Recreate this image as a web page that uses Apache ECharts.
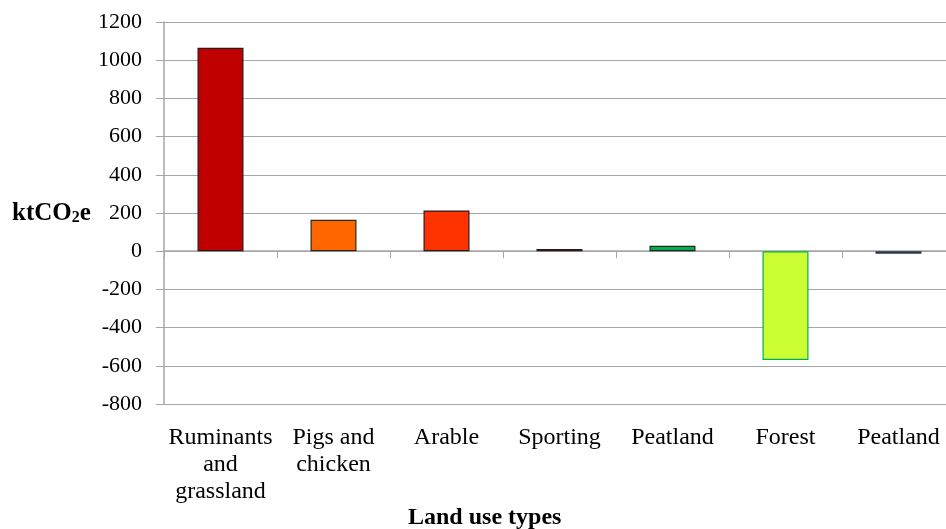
<!DOCTYPE html>
<html>
<head>
<meta charset="utf-8">
<script src="https://cdn.jsdelivr.net/npm/echarts@6/dist/echarts.min.js"></script>
<style>
  html, body { margin: 0; padding: 0; background: #fff; overflow: hidden; }
  /* chart is a bit wider than the window: the plot runs past the right edge like the original */
  #chart { width: 955px; height: 529px; }
</style>
</head>
<body>
<div id="chart"></div>
<script>
  // land use categories and emissions (ktCO2e)
  const categories = ['Ruminants\nand\ngrassland', 'Pigs and\nchicken', 'Arable', 'Sporting', 'Peatland', 'Forest', 'Peatland']
  const values = [1065, 165, 213, 12, 28, -570, -13]
  const barColors = ['#C00000', '#FF6600', '#FF3300', '#CC3300', '#00B050', '#CCFF33', '#4F6FA0']
  const borderColors = ['#2a1a1a', '#2a2a1a', '#2a1a1a', '#2a1a1a', '#1a2a1a', '#00B050', '#2a3a4a']
  const yTicks = { min: -800, max: 1200, interval: 200 }

  const font = '"Liberation Serif", "Times New Roman", serif'
  const grey = '#A6A6A6'

  const chart = echarts.init(document.getElementById('chart'))
  chart.setOption({
    animation: false,
    grid: { left: 164, right: 0, top: 22, bottom: 125 },
    xAxis: [{
      type: 'category',
      data: categories,
      axisLine: { onZero: true, lineStyle: { color: grey, width: 1.5 } },
      axisTick: { show: true, length: 7, lineStyle: { color: grey } },
      axisLabel: { show: false }
    }, {
      type: 'category',
      data: categories,
      position: 'bottom',
      axisLine: { show: false },
      axisTick: { show: false },
      axisLabel: {
        margin: 20,
        interval: 0,
        color: '#000',
        fontFamily: font,
        fontSize: 24,
        lineHeight: 27
      }
    }],
    yAxis: {
      type: 'value',
      min: yTicks.min,
      max: yTicks.max,
      interval: yTicks.interval,
      axisLine: { show: true, lineStyle: { color: grey, width: 1.5 } },
      axisTick: { show: true, length: 8, lineStyle: { color: grey } },
      splitLine: { lineStyle: { color: grey, width: 1.2 } },
      axisLabel: { margin: 22, color: '#000', fontFamily: font, fontSize: 22, formatter: v => String(v) }
    },
    graphic: [{
      type: 'text',
      left: 12,
      top: 201,
      style: {
        text: '{b|ktCO}{s|2}{b|e}',
        rich: {
          b: { fontFamily: font, fontSize: 25, fontWeight: 'bold', fill: '#000', verticalAlign: 'bottom' },
          s: { fontFamily: font, fontSize: 16, fontWeight: 'bold', fill: '#000', padding: [10, 0, 0, 0], verticalAlign: 'bottom' }
        }
      }
    }, {
      type: 'text',
      left: 408,
      top: 506,
      style: { text: 'Land use types', fontFamily: font, fontSize: 24, fontWeight: 'bold', fill: '#000' }
    }],
    series: [{
      type: 'bar',
      xAxisIndex: 0,
      barWidth: 46,
      data: values.map((v, i) => ({
        value: v,
        itemStyle: { color: barColors[i], borderColor: borderColors[i], borderWidth: 1.2 }
      }))
    }]
  })
</script>
</body>
</html>
